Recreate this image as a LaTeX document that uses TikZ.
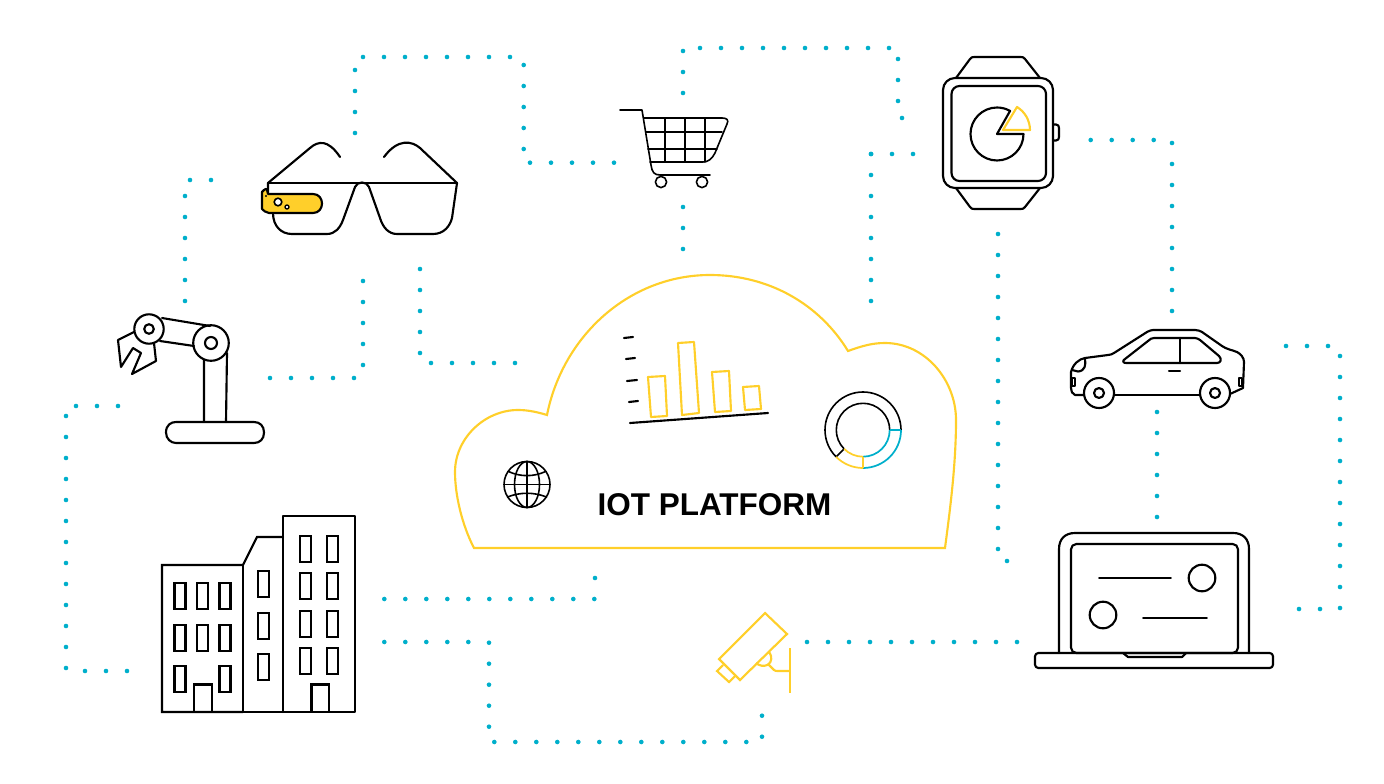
\documentclass[tikz,border=0pt]{standalone}
\usepackage{fontspec}
\setmainfont{Liberation Sans}
\definecolor{yel}{HTML}{FFCF2A}
\definecolor{tl}{HTML}{00AFCB}
\tikzset{
  dotmark/.style={fill=tl,draw=none},
  ink/.style={draw=black,line width=1.6pt,line join=round,line cap=round},
  thinink/.style={draw=black,line width=1.2pt,line join=round,line cap=round},
  yline/.style={draw=yel,line width=1.6pt,line join=miter},
  tline/.style={draw=tl,line width=1.5pt},
  wind/.style={draw=black,line width=1.6pt}
}
\newcommand\runh[3]{\foreach \k in {0,...,#3}{\fill[dotmark] ({#1+21*\k},#2) circle[radius=2.3];}}
\newcommand\runv[3]{\foreach \k in {0,...,#3}{\fill[dotmark] (#1,{#2+21*\k}) circle[radius=2.3];}}
\begin{document}
\begin{tikzpicture}[x=0.75pt,y=-0.75pt]
\useasboundingbox (0,0) rectangle (1384,784);
% ---- dotted runs
\runh{190}{180}{1}\runv{185}{196}{5}
\runh{270}{378}{4}\runv{363}{281}{4}
\runv{420}{269}{4}\runh{431}{363}{4}
\runv{355}{70}{3}\runh{363}{57}{7}\runv{523.7}{65}{4}\runh{530}{162.7}{4}
\runv{683}{51}{2}\runh{700}{48}{9}\runv{898}{59}{2}\fill[dotmark] (902,118) circle[radius=2.3];
\runv{683}{207}{2}
\runh{871}{154}{2}\runv{871}{154}{7}
\runh{1090.7}{140}{3}\runv{1172}{143}{8}
\runv{998}{234}{15}\fill[dotmark] (1007,561) circle[radius=2.3];
\runv{1157}{412}{5}
\runh{1286}{346}{2}\runv{1340}{356}{12}\runh{1299}{609}{1}
\runh{384.3}{599}{10}\fill[dotmark] (595,578) circle[radius=2.3];
\runh{384.3}{642}{4}\runv{489}{642.7}{4}\runh{494.3}{742}{12}\runv{762}{715.7}{1}
\runh{807}{642}{10}
\runh{76}{406}{2}\runv{66}{416}{12}\runh{85}{671}{2}
% ---- cloud
\draw[yline] (474,548) .. controls (462,525) and (455,495) .. (455,472)
  .. controls (455,438) and (485,410) .. (518,410)
  .. controls (528,410) and (537,412) .. (547,415)
  .. controls (563,335) and (630,275) .. (710,275)
  .. controls (770,275) and (820,305) .. (848,351)
  .. controls (862,346) and (872,343) .. (885,343)
  .. controls (925,343) and (956,380) .. (956,420)
  .. controls (956,465) and (950,510) .. (945,548) -- cycle;
\node[font=\bfseries,anchor=base,inner sep=0pt] (title) at (714.5,515) {\fontsize{23.6pt}{28pt}\selectfont IOT PLATFORM};
% bar chart
\draw[ink] (630,423) -- (768,413);
\foreach \a/\b/\c/\d in {624/338/633/337,626/359/635/358,627/381/637/380,629/402/638/401}
  \draw[ink] (\a,\b) -- (\c,\d);
\draw[yline,line join=round] (648,377) -- (665,376) -- (667,416) -- (651,417) -- cycle;
\draw[yline,line join=round] (678,343) -- (694,342) -- (699,413) -- (682,415) -- cycle;
\draw[yline,line join=round] (712,372) -- (729,371) -- (731,411) -- (715,412) -- cycle;
\draw[yline,line join=round] (743,387) -- (759,386) -- (761,409) -- (745,410) -- cycle;
% donut
\draw[thinink,line cap=butt] (863,430) ++(135:38) arc[start angle=135,end angle=360,radius=38];
\draw[thinink,line cap=butt] (863,430) ++(135:26.7) arc[start angle=135,end angle=360,radius=26.7];
\draw[thinink,line cap=butt] (863,430) ++(135:26.7) -- ++(135:11.3);
\draw[tline,line width=1.3pt] (863,430) ++(0:38) arc[start angle=0,end angle=90,radius=38];
\draw[tline,line width=1.3pt] (863,430) ++(0:26.7) arc[start angle=0,end angle=90,radius=26.7];
\draw[tline,line width=1.3pt] (863,430) ++(0:26.7) -- ++(0:11.3);
\draw[yline,line width=1.3pt] (863,430) ++(90:38) arc[start angle=90,end angle=135,radius=38];
\draw[yline,line width=1.3pt] (863,430) ++(90:26.7) arc[start angle=90,end angle=135,radius=26.7];
\draw[yline,line width=1.3pt] (863,430) ++(90:26.7) -- ++(90:11.3);
% globe
\draw[thinink] (527,484.5) circle[radius=23];
\draw[thinink] (527,484.5) ellipse[x radius=12.5,y radius=23];
\draw[thinink] (527,461.5) -- (527,507.5) (504,484.5) -- (550,484.5);
\draw[thinink] (508.5,471.5) .. controls (520,477) and (534,477) .. (545.5,471.5);
\draw[thinink] (507.5,497) .. controls (520,492) and (534,492) .. (546.5,497);
% ---- glasses
\draw[ink] (268,183) -- (457,183);
\draw[ink] (268,183) -- (310,148) .. controls (318,141) and (328,139) .. (340,157);
\draw[ink] (457,183) -- (420,148) .. controls (412,141) and (398,138) .. (384,157);
\draw[ink] (268,183) -- (268,195) (273,213) .. controls (273,226) and (281,234) .. (292,234) -- (327,234)
  .. controls (335,234) and (340,228) .. (343,220) -- (355,187)
  .. controls (357,181) and (367,181) .. (369,187) -- (380,218)
  .. controls (383,228) and (389,234) .. (397,234) -- (433,234)
  .. controls (444,234) and (450,226) .. (452,218) -- (457,183);
\draw[ink,fill=yel] (264,190) .. controls (265,189) and (267,188) .. (267,190) -- (268,194) -- (313,194)
  .. controls (325,194) and (325,213) .. (313,213) -- (269,213) .. controls (266,212) and (263,211) .. (262,209)
  -- (262,192) -- cycle;
\draw[thinink,fill=white] (278,202) circle[radius=3.8];
\draw[thinink,fill=white,line width=1pt] (287,207) circle[radius=2];
\fill (266,196) circle[radius=1.2];
% ---- robot
\draw[ink] (162,318) -- (210,326) (160,341) -- (194,346);
\draw[ink] (204,360) -- (204,422) (227,353) -- (226,422);
\draw[ink] (166,432.5) .. controls (166,425) and (171,422) .. (176,422) -- (254,422)
  .. controls (260,422) and (264,426) .. (264,432.5) .. controls (264,439) and (260,443) .. (254,443)
  -- (176,443) .. controls (171,443) and (166,439) .. (166,432.5) -- cycle;
\draw[ink] (134,332) -- (118,340) -- (121,367) -- (133,348) -- (141,353) -- (132,374) -- (156,361) -- (154,343);
\draw[ink] (149,329) circle[radius=14.7];
\draw[ink] (149,329) circle[radius=4.8];
\draw[ink] (211,343) circle[radius=17.8];
\draw[ink] (211,343) circle[radius=6];
% ---- cart
\draw[thinink] (620,110) -- (642,110) -- (651,165) .. controls (652,172) and (654,175) .. (660,175) -- (710,175);
\draw[thinink] (644,118) -- (722,118) .. controls (727,118) and (729,120) .. (727,124) -- (715,153)
  .. controls (712,159) and (708,162) .. (703,162) -- (650,162);
\draw[thinink] (646,132) -- (722,132) (648,149) -- (717,149);
\foreach \x in {665,685,705} \draw[thinink] (\x,118) -- (\x,162);
\draw[thinink] (661,182) circle[radius=5.6];
\draw[thinink] (702,182) circle[radius=5.6];
% ---- watch
\draw[ink,rounded corners=9pt] (943,78) rectangle (1053,188);
\draw[ink,rounded corners=6pt] (951.5,86) rectangle (1046,181);
\draw[ink] (956,78) -- (970,59) .. controls (971,57.5) and (972,57) .. (974,57) -- (1021,57) .. controls (1023,57) and (1024,57.5) .. (1025,59) -- (1040,78);
\draw[ink] (956,188) -- (970,207) .. controls (971,208.5) and (972,209) .. (974,209) -- (1021,209) .. controls (1023,209) and (1024,208.5) .. (1025,207) -- (1040,188);
\draw[ink] (1054,124.5) -- (1056,124.5) .. controls (1058,124.5) and (1059,126) .. (1059,128) -- (1059,137) .. controls (1059,139) and (1058,140.5) .. (1056,140.5) -- (1054,140.5);
\draw[ink] (997,134) ++(0:26.5) arc[start angle=0,end angle=299.5,radius=26.5] -- (997,134) -- cycle;
\draw[yline,line join=round] (1003,130) -- (1017,107) arc[start angle=-58.7,end angle=0,radius=27] -- cycle;
% ---- car
\draw[ink] (1083,395) -- (1075,395) .. controls (1072,394) and (1071,391) .. (1071,388) -- (1071,372)
  .. controls (1073,364) and (1079,359) .. (1085,358) -- (1108,355) .. controls (1111,355) and (1112,354) .. (1114,353)
  -- (1147,332) .. controls (1149,331) and (1151,330) .. (1153,330) -- (1195,330) .. controls (1198,330) and (1200,331) .. (1202,332)
  -- (1222,346) .. controls (1226,349) and (1232,350) .. (1237,352) .. controls (1241,354) and (1244,358) .. (1244,362)
  -- (1243,388) -- (1230,394);
\draw[ink] (1114,395) -- (1200,395);
\draw[ink] (1099,393) circle[radius=15];
\draw[ink] (1099,393) circle[radius=5];
\draw[ink] (1215,393) circle[radius=15];
\draw[ink] (1215,393) circle[radius=5];
\draw[ink] (1126,363) .. controls (1123,363) and (1122,361) .. (1125,359) -- (1148,341) .. controls (1150,339) and (1152,338) .. (1154,338)
  -- (1195,338) .. controls (1197,338) and (1198,339) .. (1200,340) -- (1219,356) .. controls (1222,359) and (1221,363) .. (1217,363) -- cycle;
\draw[ink] (1180,338) -- (1180,363) (1169,371) -- (1180,371);
\draw[ink] (1085,359) .. controls (1086,365) and (1085,371) .. (1078,371.5) -- (1072,370);
\draw[thinink] (1072,378) rectangle (1075,386) (1239,378) rectangle (1242,386);
% ---- laptop
\draw[ink] (1059,653) -- (1059,549) .. controls (1059,539) and (1065,533) .. (1075,533) -- (1233,533) .. controls (1243,533) and (1249,539) .. (1249,549) -- (1249,653);
\draw[ink,rounded corners=4pt] (1071,544) rectangle (1238,653);
\draw[ink,rounded corners=2.5pt] (1035,653) rectangle (1273,668);
\draw[ink] (1123,653) -- (1128,657) -- (1182,657) -- (1186,653);
\draw[thinink] (1099,578) -- (1171,578) (1143,618) -- (1207,618);
\draw[ink] (1202,578) circle[radius=13.3];
\draw[ink] (1103,615) circle[radius=13.3];
% ---- buildings
\draw[ink,line join=miter] (243,712) -- (162,712) -- (162,565) -- (243,565) -- (257,537) -- (283,537);
\draw[ink] (243,565) -- (243,712) -- (355,712) -- (355,516) -- (283,516) -- (283,712);
\foreach \x in {174.5,197,219.5} \foreach \y in {583,625}
  \draw[wind] (\x,\y) rectangle ++(11,26);
\foreach \x in {174.5,219.5} \draw[wind] (\x,666) rectangle ++(11,26);
\foreach \y in {571,613,654} \draw[wind] (258,\y) rectangle ++(11,26);
\foreach \x in {300,327} \foreach \y in {536,573,611,648}
  \draw[wind] (\x,\y) rectangle ++(11,26);
\draw[wind] (194,712) -- (194,684.5) -- (212,684.5) -- (212,712);
\draw[wind] (311.5,712) -- (311.5,684.5) -- (329,684.5) -- (329,712);
% ---- camera
\draw[yline] (765,613) -- (787,634) -- (740,680) -- (719,659) -- cycle;
\draw[yline] (723,665) -- (717,671) -- (729,682) -- (735,676);
\draw[yline] (756,663) .. controls (763,669) and (773,665) .. (771,656) .. controls (771,654) and (769,652) .. (768,652);
\draw[yline] (768,664) -- (774,670) .. controls (775,671) and (776,671) .. (778,671) -- (790,671);
\draw[yline] (790,648) -- (790,693);
\end{tikzpicture}
\end{document}
